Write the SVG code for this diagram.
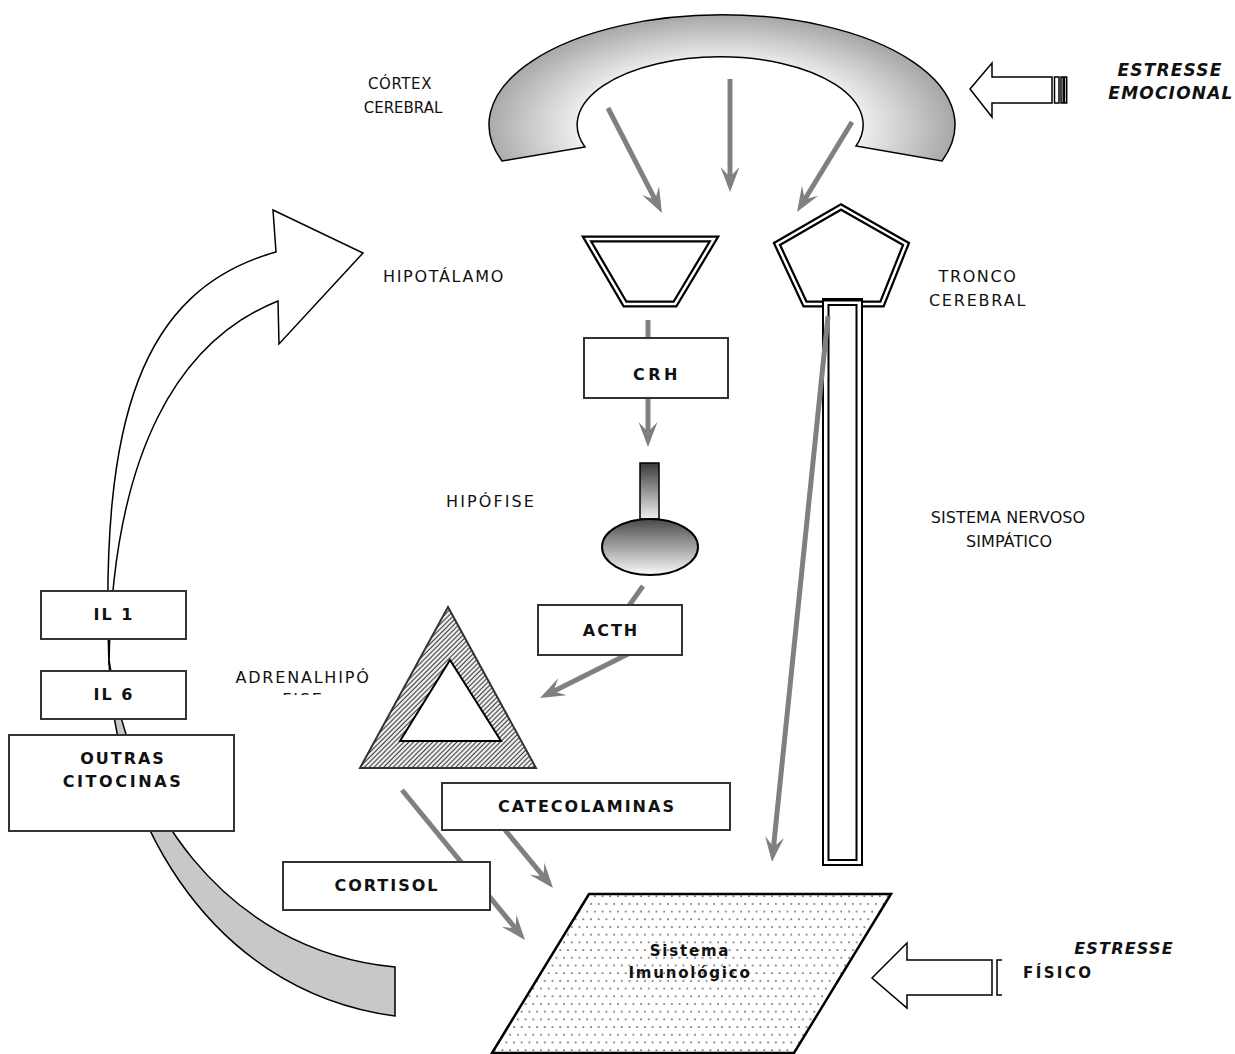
<svg xmlns="http://www.w3.org/2000/svg" width="1235" height="1054" viewBox="0 0 1235 1054">
<defs>
<style>
.lbl{font-family:"DejaVu Sans","Liberation Sans",sans-serif;font-size:16px;letter-spacing:1.2px;fill:#111;text-anchor:middle}
.bl{font-family:"DejaVu Sans","Liberation Sans",sans-serif;font-size:16px;font-weight:bold;letter-spacing:2px;fill:#111;text-anchor:middle}
.it{font-family:"DejaVu Sans","Liberation Sans",sans-serif;font-size:17px;font-weight:bold;font-style:italic;letter-spacing:1.2px;fill:#111;text-anchor:middle}
.box{fill:#fff;stroke:#333;stroke-width:2}
.con{stroke:#808080;stroke-width:5;fill:none}
.arr{marker-end:url(#ah)}
.out{stroke:#000;stroke-width:1.5}
.dbl1{fill:#fff;stroke:#000;stroke-width:7;stroke-linejoin:miter}
.dbl2{fill:none;stroke:#fff;stroke-width:2.5;stroke-linejoin:miter}
</style>
<marker id="ah" markerUnits="userSpaceOnUse" viewBox="-18 -11 27 22" refX="0" refY="0" markerWidth="27" markerHeight="22" orient="auto">
<path d="M-17,-9.5 L8,0 L-17,9.5 L-7,0 Z" fill="#808080"/>
</marker>
<radialGradient id="cortexG" gradientUnits="userSpaceOnUse" cx="0" cy="0" r="1" gradientTransform="translate(720,128) scale(233,112)">
<stop offset="0.58" stop-color="#f4f4f4"/>
<stop offset="0.75" stop-color="#d6d6d6"/>
<stop offset="1" stop-color="#a9a9a9"/>
</radialGradient>
<linearGradient id="stemG" x1="0" y1="0" x2="0" y2="1">
<stop offset="0" stop-color="#3a3a3a"/>
<stop offset="1" stop-color="#f0f0f0"/>
</linearGradient>
<linearGradient id="ovalG" x1="0" y1="0" x2="0" y2="1">
<stop offset="0" stop-color="#4a4a4a"/>
<stop offset="1" stop-color="#fafafa"/>
</linearGradient>
<pattern id="hatch" patternUnits="userSpaceOnUse" width="3.4" height="3.4" patternTransform="rotate(45)">
<rect width="3.4" height="3.4" fill="#fff"/>
<line x1="1.2" y1="0" x2="1.2" y2="3.4" stroke="#444" stroke-width="1.3"/>
</pattern>
<pattern id="dots" patternUnits="userSpaceOnUse" width="7.7" height="15.4">
<rect width="7.7" height="15.4" fill="#fff"/>
<circle cx="2" cy="3" r="0.9" fill="#444"/>
<circle cx="5.85" cy="10.7" r="0.9" fill="#444"/>
</pattern>
<clipPath id="fiseClip"><rect x="260" y="688" width="90" height="7"/></clipPath>
</defs>

<rect width="1235" height="1054" fill="#fff"/>

<g id="feedback-arrow">
<path d="M109,660 C110,800 200,990 395,1016 L395,967 C220,950 128,800 109,660 Z" fill="#c8c8c8" class="out"/>
<path d="M273,210 L363,253 L279,344 L278,301 C180,340 112,450 109,665 C100,420 140,290 276,252 Z" fill="#fff" class="out" stroke-linejoin="miter"/>
</g>

<g id="cortex">
<path d="M502,161 A233,110 0 1 1 942,161 L856,146 A143,68 0 1 0 585,147 Z" fill="url(#cortexG)" class="out"/>
<text class="lbl" x="400" y="89" style="font-size:15px;letter-spacing:0.6px">CÓRTEX</text>
<text class="lbl" x="403" y="113" style="font-size:15px;letter-spacing:0px">CEREBRAL</text>
</g>

<g id="estresse-emocional">
<polygon points="970,89 992,63 992,77 1052,77 1052,103 992,103 992,117" fill="#fff" class="out"/>
<rect x="1054.5" y="77" width="4.5" height="26" fill="#fff" class="out"/>
<rect x="1061" y="77" width="2.2" height="26" fill="#fff" class="out"/>
<rect x="1064.5" y="77" width="2.2" height="26" fill="#fff" class="out"/>
<text class="it" x="1170" y="76">ESTRESSE</text>
<text class="it" x="1171" y="99">EMOCIONAL</text>
</g>

<g id="hipotalamo">
<polygon class="dbl1" points="587,239 714,239 675,304 625,304"/>
<polygon class="dbl2" points="587,239 714,239 675,304 625,304"/>
<text class="lbl" x="444" y="282" style="letter-spacing:1.7px">HIPOTÁLAMO</text>
</g>

<g id="tronco-cerebral">
<polygon class="dbl1" points="841,207 906,244 882,304 805,304 777,244"/>
<polygon class="dbl2" points="841,207 906,244 882,304 805,304 777,244"/>
<text class="lbl" x="978" y="282" style="letter-spacing:1.6px">TRONCO</text>
<text class="lbl" x="978" y="306" style="letter-spacing:1.8px">CEREBRAL</text>
</g>

<g id="sistema-nervoso-simpatico">
<rect x="823" y="299" width="39" height="566" fill="#fff" stroke="#000" stroke-width="2"/>
<line x1="822" y1="300" x2="863" y2="300" stroke="#000" stroke-width="3"/>
<rect x="828.5" y="305" width="28" height="555" fill="none" stroke="#000" stroke-width="2"/>
<text class="lbl" x="1008" y="523" style="letter-spacing:0.1px">SISTEMA NERVOSO</text>
<text class="lbl" x="1009" y="547" style="letter-spacing:0.1px">SIMPÁTICO</text>
</g>

<g id="hipofise">
<rect x="640" y="463" width="19" height="56" fill="url(#stemG)" stroke="#000" stroke-width="1.5"/>
<ellipse cx="650" cy="547" rx="48" ry="28" fill="url(#ovalG)" stroke="#000" stroke-width="2"/>
<text class="lbl" x="491" y="507" style="letter-spacing:2.1px">HIPÓFISE</text>
</g>

<g id="adrenal">
<polygon points="448,607 536,768 360,768" fill="url(#hatch)" stroke="#333" stroke-width="2"/>
<polygon points="450,660 501,741 400,741" fill="#fff" stroke="#000" stroke-width="2"/>
<text class="lbl" x="303" y="683" style="letter-spacing:1.8px">ADRENALHIPÓ</text>
<text class="lbl" x="303" y="704.5" clip-path="url(#fiseClip)" style="letter-spacing:1.8px">FISE</text>
</g>

<g id="sistema-imunologico">
<polygon points="589,894 891,894 794,1053 492,1053" fill="url(#dots)" stroke="#000" stroke-width="2.5"/>
<text class="bl" x="690" y="956" style="font-size:15px;letter-spacing:1.8px">Sistema</text>
<text class="bl" x="690" y="978" style="font-size:15px;letter-spacing:1.8px">Imunológico</text>
</g>

<g id="estresse-fisico">
<polygon points="872,978 907,943 907,960 992,960 992,995 907,995 907,1008" fill="#fff" class="out"/>
<path d="M1002,960 H997 V995 H1002" fill="none" class="out"/>
<text class="it" x="1124" y="954" style="font-size:16px">ESTRESSE</text>
<text class="bl" x="1023" y="978" style="text-anchor:start;font-size:15px;letter-spacing:2.4px">FÍSICO</text>
</g>

<g id="connectors">
<line class="con arr" x1="608" y1="108" x2="658.3" y2="205.9"/>
<line class="con arr" x1="730" y1="79" x2="730" y2="184"/>
<line class="con arr" x1="852" y1="122" x2="801.2" y2="205.2"/>
<line class="con" x1="648" y1="320" x2="648" y2="340"/>
<line class="con arr" x1="648" y1="398" x2="648" y2="439"/>
<line class="con" x1="643" y1="586" x2="628" y2="607"/>
<line class="con arr" x1="636" y1="650" x2="547.2" y2="694.4"/>
<line class="con arr" x1="402" y1="790" x2="519.9" y2="933.8"/>
<line class="con arr" x1="505" y1="830" x2="547.9" y2="881.8"/>
<line class="con arr" x1="828" y1="316" x2="772.8" y2="854"/>
</g>

<g id="crh"><rect class="box" x="584" y="338" width="144" height="60"/><text class="bl" x="657" y="380" style="letter-spacing:3.5px">CRH</text></g>
<g id="acth"><rect class="box" x="538" y="605" width="144" height="50"/><text class="bl" x="611" y="636">ACTH</text></g>
<g id="catecolaminas"><rect class="box" x="442" y="783" width="288" height="47"/><text class="bl" x="587" y="812">CATECOLAMINAS</text></g>
<g id="cortisol"><rect class="box" x="283" y="862" width="207" height="48"/><text class="bl" x="387" y="891">CORTISOL</text></g>
<g id="il1"><rect class="box" x="41" y="591" width="145" height="48"/><text class="bl" x="114" y="620">IL 1</text></g>
<g id="il6"><rect class="box" x="41" y="671" width="145" height="48"/><text class="bl" x="114" y="700">IL 6</text></g>
<g id="outras-citocinas"><rect class="box" x="9" y="735" width="225" height="96"/><text class="bl" x="123" y="764">OUTRAS</text><text class="bl" x="123" y="787" style="letter-spacing:2.6px">CITOCINAS</text></g>
</svg>
